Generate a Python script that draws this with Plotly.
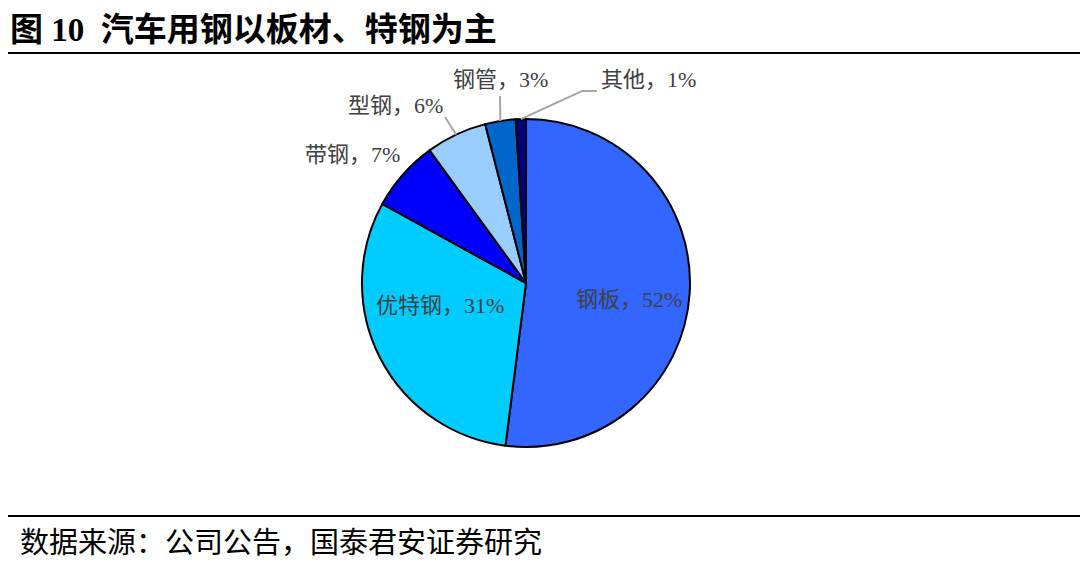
import math

import plotly.graph_objects as go

# data
categories = ['钢板', '优特钢', '带钢', '型钢', '钢管', '其他']
shares = [52, 31, 7, 6, 3, 1]
colors = ['#3366FF', '#00CCFF', '#0000FF', '#99CCFF', '#0066CC', '#000080']

title_text = '<b>图 10\u00a0\u00a0汽车用钢以板材、特钢为主</b>'
source_text = '数据来源：公司公告，国泰君安证券研究'

W, H = 1080, 562
CX, CY, R = 526, 283, 164  # pie centre / radius in pixels

# label centres (pixels) and where a leader line leaves the label
label_pos = [(629, 300), (440, 305), (352, 155), (395, 106), (500, 80), (648, 80)]
leader = [None, None, None, (445, 117), (500, 96), (582, 91)]

FONT = 'Liberation Serif, Noto Sans CJK SC'


def px(x):
    return x / W


def py(y):
    return 1 - y / H


fig = go.Figure()
fig.add_trace(go.Pie(
    labels=categories, values=shares, sort=False, direction='clockwise',
    marker=dict(colors=colors, line=dict(color='black', width=2)),
    textinfo='none', hoverinfo='label+percent', showlegend=False,
    domain=dict(x=[px(CX - R), px(CX + R)], y=[py(CY + R), py(CY - R)]),
))

shapes = [
    dict(type='line', xref='paper', yref='paper', x0=px(8), x1=1, y0=py(53), y1=py(53),
         line=dict(color='black', width=2)),
    dict(type='line', xref='paper', yref='paper', x0=px(8), x1=1, y0=py(516), y1=py(516),
         line=dict(color='black', width=2)),
]

annotations = []
cum = 0
for i, (cat, val) in enumerate(zip(categories, shares)):
    mid = (cum + val / 2) / sum(shares) * 2 * math.pi
    cum += val
    ex, ey = CX + R * math.sin(mid), CY - R * math.cos(mid)
    lx, ly = label_pos[i]
    annotations.append(dict(
        x=px(lx), y=py(ly), xref='paper', yref='paper', showarrow=False,
        xanchor='center', yanchor='middle',
        text='%s，%d%%' % (cat, val), font=dict(family=FONT, size=22, color='#404040'),
    ))
    if leader[i] is not None:
        sx, sy = leader[i]
        path = 'M %f %f L %f %f' % (px(ex), py(ey), px(sx), py(sy))
        if cat == '其他':
            path += ' L %f %f' % (px(sx + 15), py(sy))
        shapes.append(dict(type='path', xref='paper', yref='paper', path=path,
                           line=dict(color='#A6A6A6', width=2)))

annotations.append(dict(x=px(8), y=py(30), xref='paper', yref='paper', showarrow=False,
                        xanchor='left', yanchor='middle', text=title_text,
                        font=dict(family=FONT, size=33, color='black')))
annotations.append(dict(x=px(18), y=py(543), xref='paper', yref='paper', showarrow=False,
                        xanchor='left', yanchor='middle', text=source_text,
                        font=dict(family=FONT, size=29, color='black')))

fig.update_layout(
    width=W, height=H, margin=dict(l=0, r=0, t=0, b=0),
    paper_bgcolor='white', plot_bgcolor='white',
    shapes=shapes, annotations=annotations,
)
fig.write_html('out.html', config={'displayModeBar': False},
               post_script="document.body.style.margin='0';")
